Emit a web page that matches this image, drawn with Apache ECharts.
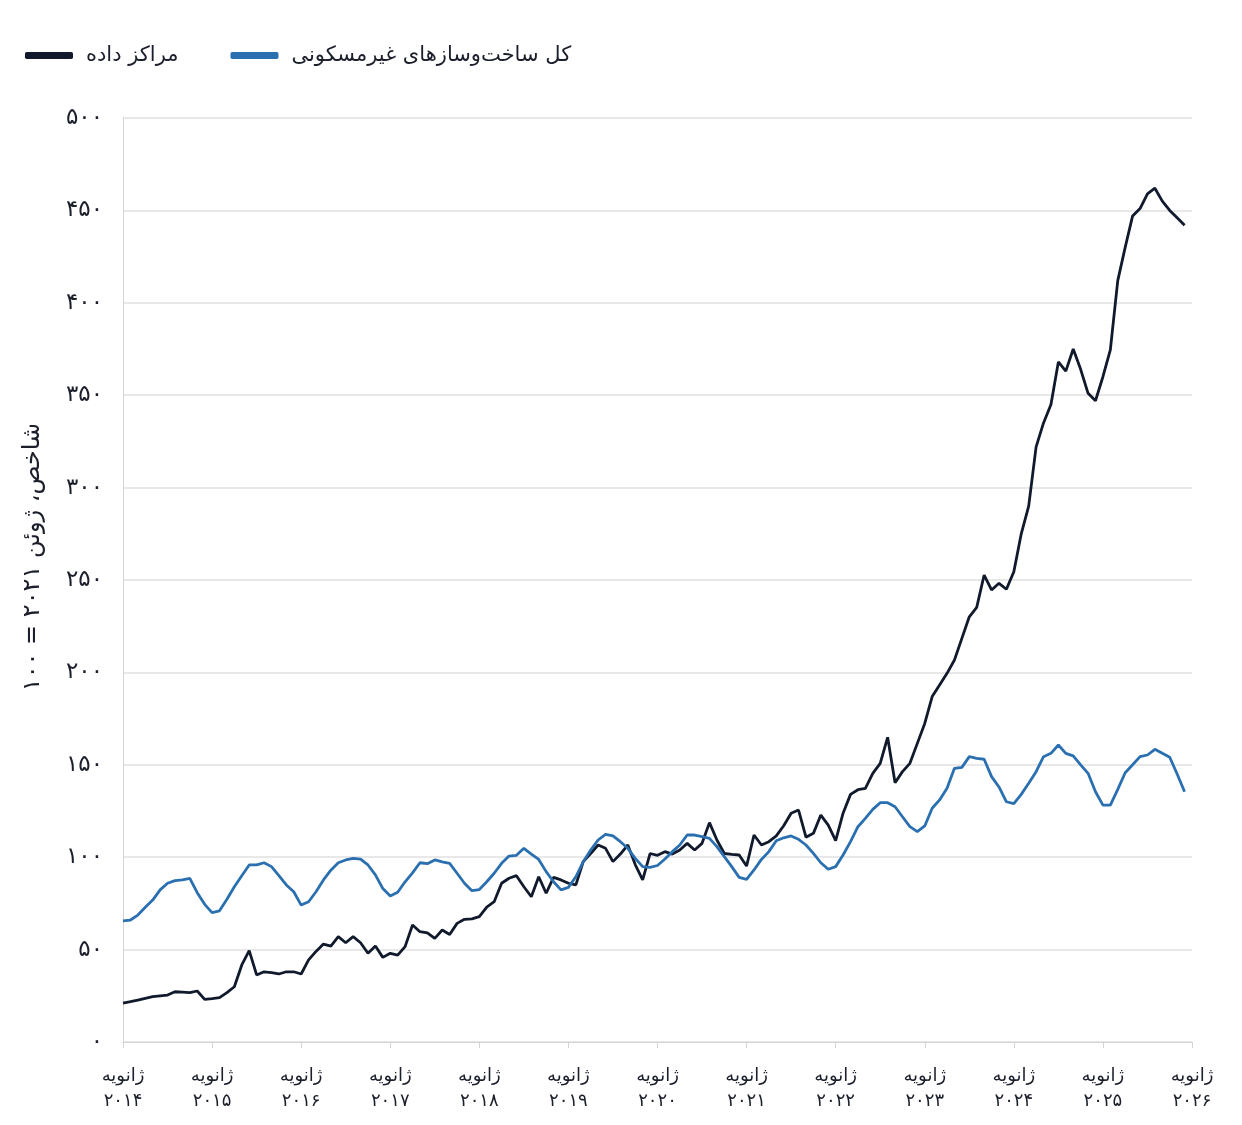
<!DOCTYPE html>
<html lang="fa">
<head>
<meta charset="utf-8">
<title>مراکز داده</title>
<script src="https://cdn.jsdelivr.net/npm/echarts@6/dist/echarts.min.js"></script>
<style>
  html, body { margin: 0; padding: 0; background: #fff; }
  #chart { width: 1242px; height: 1125px; }
</style>
</head>
<body>
<div id="chart"></div>
<script>
// سال‌ها (برچسب محور افقی، هر ژانویه)
const years = ['۲۰۱۴', '۲۰۱۵', '۲۰۱۶', '۲۰۱۷', '۲۰۱۸', '۲۰۱۹', '۲۰۲۰', '۲۰۲۱', '۲۰۲۲', '۲۰۲۳', '۲۰۲۴', '۲۰۲۵', '۲۰۲۶'];
const monthName = 'ژانویه';

// مراکز داده، ماهانه از ژانویه ۲۰۱۴ تا دسامبر ۲۰۲۵
const dataCenters = [
  21, 21.8, 22.7, 23.6, 24.5, 25, 25.4, 27.2, 27, 26.7, 27.6, 23.1,
  23.5, 24, 26.7, 29.9, 41.7, 49.4, 36.3, 38, 37.5, 36.8, 38, 38,
  36.8, 44.4, 49, 53, 51.9, 57, 53.7, 57, 53.7, 48, 51.9, 45.8,
  48, 47, 51.6, 63.3, 59.7, 59.1, 56.1, 60.6, 58.2, 64.2, 66.4, 66.6,
  67.8, 73, 75.9, 85.9, 88.6, 90, 84, 78.6, 89.4, 80.5, 89.1, 87.7,
  85.9, 85, 97.6, 102, 106.6, 104.8, 97.6, 101.7, 106.6, 96, 87.7, 102,
  101, 103, 101.7, 103.9, 107.5, 103.9, 107.5, 118.7, 109.3, 102, 101.5, 101.2,
  95.2, 112, 106.6, 108.4, 111.5, 117, 123.8, 125.5, 110.8, 112.9, 122.8, 117.4,
  109, 123.8, 134, 136.5, 137.3, 145.4, 150.8, 164.9, 140.3, 146.3, 150.8, 161.6,
  172.4, 186.9, 193.2, 199.5, 206.7, 218.4, 230.1, 235.2, 252.7, 244.6, 248.2, 245,
  254.5, 275, 290, 322, 335, 345, 368, 363, 375, 364, 351, 347,
  360, 374.5, 412, 430, 447, 451, 459, 462, 455, 450, 446, 442
];

// کل ساخت‌وسازهای غیرمسکونی
const nonResidential = [
  65.6, 66, 68.7, 72.9, 76.8, 82.3, 85.9, 87.3, 87.7, 88.6, 80.8, 74.5,
  70, 71, 77.2, 84, 90, 95.8, 95.8, 97, 94.9, 90, 85, 81.3,
  74.1, 75.9, 81.3, 87.7, 93, 97, 98.5, 99.4, 99, 95.8, 90.4, 83,
  79, 81, 86.7, 91.5, 97, 96.5, 98.5, 97.5, 96.7, 91.3, 85.9, 81.9,
  82.5, 86.7, 91.3, 96.7, 100.6, 101, 104.8, 101.7, 98.8, 92.2, 86.7, 82.3,
  83.7, 89.4, 97.6, 103.9, 109.3, 112.4, 111.5, 108.4, 104.8, 99.4, 94.9, 94.5,
  95.5, 99, 103, 106.6, 112, 112, 111.1, 110.2, 105.7, 100.3, 94.9, 89.1,
  88, 93.1, 98.8, 103, 108.9, 110.5, 111.5, 109.7, 106.6, 102.1, 97, 93.5,
  94.9, 101.2, 108.4, 116.5, 121, 125.9, 129.5, 129.5, 127.3, 121.9, 116.5, 113.8,
  116.9, 126.5, 131, 137.3, 148.1, 148.6, 154.4, 153.5, 153, 143.6, 138, 130,
  129, 134, 140, 146.3, 154.4, 156.2, 160.7, 156.2, 154.8, 150, 145.4, 135.4,
  128.2, 128.2, 136.7, 145.7, 150, 154.4, 155.3, 158.4, 156.2, 154.1, 145, 135.4
];

const faDigits = '۰۱۲۳۴۵۶۷۸۹';
function toFa(n) {
  return String(n).replace(/[0-9]/g, d => faDigits[d]);
}

// دسته‌ها: یک خانه برای هر ماه، به‌علاوه ژانویه ۲۰۲۶
const categories = [];
years.forEach((y, yi) => {
  if (yi === years.length - 1) {
    categories.push(monthName + '\n' + y);
    return;
  }
  for (let m = 0; m < 12; m++) {
    categories.push(m === 0 ? monthName + '\n' + y : y + '-' + m);
  }
});

const font = "'DejaVu Sans', 'Noto Sans', sans-serif";
const textColor = '#1b1f2b';

let myChart = echarts.init(document.getElementById('chart'));
let options = {
  backgroundColor: '#ffffff',
  animation: false,
  textStyle: { fontFamily: font },
  legend: {
    left: 20,
    top: 40,
    itemWidth: 48,
    itemHeight: 7,
    itemGap: 52,
    icon: 'roundRect',
    textStyle: {
      fontFamily: font,
      fontSize: 21,
      color: textColor,
      padding: [0, 0, 0, 8]
    },
    data: ['مراکز داده', 'کل ساخت‌وسازهای غیرمسکونی']
  },
  grid: {
    left: 123,
    right: 50,
    top: 118,
    bottom: 83,
    containLabel: false
  },
  xAxis: {
    type: 'category',
    boundaryGap: false,
    data: categories,
    axisLine: { show: true, lineStyle: { color: '#d4d4d4', width: 1 } },
    axisTick: {
      show: true,
      interval: (i) => i % 12 === 0,
      length: 6,
      lineStyle: { color: '#d4d4d4' }
    },
    axisLabel: {
      interval: (i) => i % 12 === 0,
      formatter: (v) => v,
      margin: 22,
      fontFamily: font,
      fontSize: 18,
      lineHeight: 25,
      color: textColor
    },
    splitLine: { show: false }
  },
  yAxis: {
    type: 'value',
    min: 0,
    max: 500,
    interval: 50,
    name: 'شاخص، ژوئن ۲۰۲۱ = ۱۰۰',
    nameLocation: 'middle',
    nameRotate: 90,
    nameGap: 78,
    nameTextStyle: {
      fontFamily: font,
      fontSize: 24,
      color: textColor,
      padding: [0, 0, 0, 46]
    },
    axisLine: { show: true, lineStyle: { color: '#d4d4d4', width: 1 } },
    axisTick: { show: false },
    axisLabel: {
      formatter: (v) => toFa(v),
      margin: 20,
      fontFamily: font,
      fontSize: 23,
      color: textColor
    },
    splitLine: { show: true, lineStyle: { color: '#e0e0e0', width: 1.5 } }
  },
  series: [
    {
      name: 'مراکز داده',
      type: 'line',
      data: dataCenters,
      showSymbol: false,
      symbol: 'none',
      color: '#101a2c',
      lineStyle: { width: 2.8, color: '#101a2c' },
      z: 3
    },
    {
      name: 'کل ساخت‌وسازهای غیرمسکونی',
      type: 'line',
      data: nonResidential,
      showSymbol: false,
      symbol: 'none',
      color: '#2a6fb0',
      lineStyle: { width: 2.8, color: '#2a6fb0' },
      z: 4
    }
  ]
};
myChart.setOption(options);
</script>
</body>
</html>
